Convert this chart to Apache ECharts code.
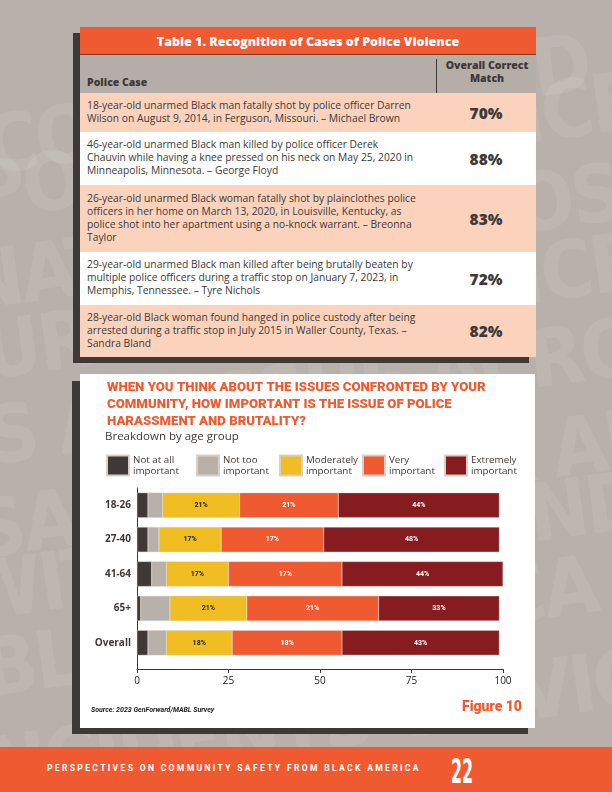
<!DOCTYPE html>
<html>
<head>
<meta charset="utf-8">
<script src="https://cdn.jsdelivr.net/npm/echarts@6/dist/echarts.min.js"></script>
<style>
  html, body { margin: 0; padding: 0; }
  body { width: 612px; height: 792px; position: relative; overflow: hidden;
         background: #b8b0aa; font-family: 'Open Sans', Roboto, sans-serif; color: #3e3936; }
  .wm { position: absolute; font-family: 'DejaVu Sans Condensed', sans-serif; font-weight: bold;
        color: rgba(255,255,255,0.09); font-size: 80px; white-space: nowrap; transform: rotate(-8deg);
        letter-spacing: -3px; }
  .shadow { position: absolute; background: #3e3936; }
  #table { position: absolute; left: 80px; top: 27px; width: 456px; }
  #table .ttl { height: 28px; background: #f05a30; color: #fff; font-weight: 800; font-size: 12.5px;
                line-height: 29px; text-align: center; border-bottom: 1px solid #7a3a24; box-sizing: border-box; }
  #table .row { position: relative; box-sizing: border-box; }
  #table .case { position: absolute; left: 7px; font-size: 10.3px; line-height: 13px; white-space: nowrap; }
  #table .pct { position: absolute; left: 356px; width: 100px; text-align: center; font-weight: 800; font-size: 15.5px; }
  #table .hd { height: 38px; background: #b5ada7; }
  #table .hd .c1 { position: absolute; left: 7px; top: 20px; font-size: 10.5px; font-weight: 800; }
  #table .hd .c2 { position: absolute; left: 356px; width: 100px; top: 4px; text-align: center; font-size: 10.5px;
                   font-weight: 800; line-height: 13px; border-left: 1px solid #3e3936; height: 34px; }
  #panel { position: absolute; left: 80px; top: 374px; width: 455px; height: 354px; background: #fff; }
  #chart { width: 455px; height: 354px; }
  #footer { position: absolute; left: 0; top: 747px; width: 612px; height: 45px; background: #f05a30; }
  #footer .t { position: absolute; left: 47px; top: 16px; color: #fff; font-weight: bold; font-size: 8.6px;
               font-family: Roboto, sans-serif; letter-spacing: 2.3px; white-space: nowrap; }
  #footer .n { position: absolute; left: 451px; top: 4px; color: #fff; font-family: 'DejaVu Sans Condensed', sans-serif;
               font-weight: bold; font-size: 34px; transform: scaleX(0.52); transform-origin: left top; }
</style>
</head>
<body>
<div class="wm" style="left:-20px; top:20px;">CONCERNS AND EXPERIENCES</div>
<div class="wm" style="left:-30px; top:100px;">POLICE VIOLENCE</div>
<div class="wm" style="left:-40px; top:180px;">NATIONAL EXPOSURE</div>
<div class="wm" style="left:-20px; top:260px;">URGENCY POLICE</div>
<div class="wm" style="left:-40px; top:340px;">IS AN ISSUE ACROSS</div>
<div class="wm" style="left:-30px; top:420px;">SAFETY BLACK AMERICA</div>
<div class="wm" style="left:-40px; top:500px;">WITH POLICE AND</div>
<div class="wm" style="left:-20px; top:580px;">BLACK AMERICA</div>
<div class="wm" style="left:-40px; top:660px;">INCIDENTS OF VIOLENCE</div>

<div class="shadow" style="left:73px; top:33px; width:8px; height:330px;"></div>
<div class="shadow" style="left:73px; top:357px; width:456px; height:6px;"></div>
<div id="table"></div>

<div class="shadow" style="left:72px; top:381px; width:9px; height:353px;"></div>
<div class="shadow" style="left:72px; top:728px; width:456px; height:6px;"></div>
<div id="panel"><div id="chart"></div></div>

<div id="footer">
  <div class="t">PERSPECTIVES ON COMMUNITY SAFETY FROM BLACK AMERICA</div>
  <div class="n">22</div>
</div>

<script>
// table data
var caseTexts = [
  '18-year-old unarmed Black man fatally shot by police officer Darren<br>Wilson on August 9, 2014, in Ferguson, Missouri. – Michael Brown',
  '46-year-old unarmed Black man killed by police officer Derek<br>Chauvin while having a knee pressed on his neck on May 25, 2020 in<br>Minneapolis, Minnesota. – George Floyd',
  '26-year-old unarmed Black woman fatally shot by plainclothes police<br>officers in her home on March 13, 2020, in Louisville, Kentucky, as<br>police shot into her apartment using a no-knock warrant. – Breonna<br>Taylor',
  '29-year-old unarmed Black man killed after being brutally beaten by<br>multiple police officers during a traffic stop on January 7, 2023, in<br>Memphis, Tennessee. – Tyre Nichols',
  '28-year-old Black woman found hanged in police custody after being<br>arrested during a traffic stop in July 2015 in Waller County, Texas. –<br>Sandra Bland'
];
var matchPct = [70, 88, 83, 72, 82];
var rowHeights = [39, 53, 67, 53, 52];

// chart data
var categories = ['18-26', '27-40', '41-64', '65+', 'Overall'];
var notAtAll = [3, 3, 4, 1, 3];
var notToo = [4, 3, 4, 8, 5];
var moderately = [21, 17, 17, 21, 18];
var very = [27, 28, 31, 36, 30];
var extremely = [44, 48, 44, 33, 43];
// labels as printed on the bars
var moderatelyLabels = ['21%', '17%', '17%', '21%', '18%'];
var veryLabels = ['21%', '17%', '17%', '21%', '18%'];
var extremelyLabels = ['44%', '48%', '44%', '33%', '43%'];
var xTicks = [0, 25, 50, 75, 100];

var seriesNames = ['Not at all\nimportant', 'Not too\nimportant', 'Moderately\nimportant', 'Very\nimportant', 'Extremely\nimportant'];
var colors = ['#3e3936', '#b8b0aa', '#f0be22', '#f05a30', '#871c20'];

var tableHtml = '<div class="ttl">Table 1. Recognition of Cases of Police Violence</div>' +
  '<div class="row hd"><div class="c1">Police Case</div><div class="c2">Overall Correct<br>Match</div></div>';
caseTexts.forEach(function(t, i){
  var h = rowHeights[i];
  var lines = t.split('<br>').length;
  var top = Math.round((h - lines * 13) / 2) - 1;
  tableHtml += '<div class="row" style="height:' + h + 'px;background:' + (i % 2 === 0 ? '#fbd3bd' : '#fff') + '">' +
    '<div class="case" style="top:' + top + 'px">' + t + '</div>' +
    '<div class="pct" style="top:' + (Math.round(h / 2) - 11) + 'px">' + matchPct[i] + '%</div></div>';
});
document.getElementById('table').innerHTML = tableHtml;

var chart = echarts.init(document.getElementById('chart'));
var legendLefts = [26, 116, 199, 282, 364];
var dataSets = [notAtAll, notToo, moderately, very, extremely];
var labelSets = [null, null, moderatelyLabels, veryLabels, extremelyLabels];

var option = {
  animation: false,
  title: [
    {
      text: 'WHEN YOU THINK ABOUT THE ISSUES CONFRONTED BY YOUR\nCOMMUNITY, HOW IMPORTANT IS THE ISSUE OF POLICE\nHARASSMENT AND BRUTALITY?',
      left: 22, top: 0,
      textStyle: { color: '#f05a30', fontSize: 13.2, fontWeight: 900, lineHeight: 17, fontFamily: 'Roboto' }
    },
    {
      text: 'Breakdown by age group', left: 20, top: 52,
      textStyle: { color: '#3e3936', fontSize: 11.5, fontWeight: 500, fontFamily: 'Open Sans' }
    },
    {
      text: 'Figure 10', left: 377, top: 321,
      textStyle: { color: '#f05a30', fontSize: 14, fontWeight: 900, fontFamily: 'Roboto' }
    },
    {
      text: 'Source: 2023 GenForward/MABL Survey', left: 6, top: 328,
      textStyle: { color: '#222', fontSize: 7, fontWeight: 'bold', fontStyle: 'italic', fontFamily: 'Roboto' }
    }
  ],
  legend: seriesNames.map(function(n, i){
    return {
      data: [n], left: legendLefts[i], top: 80, padding: 0,
      itemWidth: 22, itemHeight: 20, itemGap: 5,
      icon: 'rect',
      textStyle: { color: '#3e3936', fontSize: 9.8, lineHeight: 11.5, fontFamily: 'Open Sans', padding: [0, 0, 0, -1] }
    };
  }),
  grid: { left: 57, top: 114, width: 366, height: 172 },
  xAxis: {
    type: 'value', min: 0, max: 100, interval: 25, offset: 9,
    axisLine: { show: true, lineStyle: { color: '#3e3936', width: 1 } },
    axisTick: { show: true, length: 4, lineStyle: { color: '#3e3936' } },
    axisLabel: { color: '#222', fontSize: 10, margin: 7, fontFamily: 'Open Sans',
      formatter: function(v){ return xTicks.indexOf(v) > -1 ? String(v) : ''; } },
    splitLine: { show: false }
  },
  yAxis: {
    type: 'category', data: categories, inverse: true,
    axisLine: { show: true, lineStyle: { color: '#3e3936', width: 1 } },
    axisTick: { show: false },
    axisLabel: { color: '#3e3936', fontSize: 10, fontWeight: 'bold', margin: 6, fontFamily: 'Open Sans' }
  },
  graphic: [
    { type: 'line', shape: { x1: 57.5, y1: 286, x2: 57.5, y2: 295 }, style: { stroke: '#3e3936', lineWidth: 1 } }
  ],
  series: seriesNames.map(function(n, i){
    var labels = labelSets[i];
    return {
      name: n, type: 'bar', stack: 'total', barWidth: 25,
      data: dataSets[i],
      itemStyle: { color: colors[i], borderColor: '#d9cfc8', borderWidth: 0.4 },
      label: {
        show: !!labels, position: 'inside',
        color: i === 2 ? '#222' : '#fff', fontSize: 7, fontWeight: 'bold', fontFamily: 'Roboto',
        formatter: function(p){ return labels ? labels[p.dataIndex] : ''; }
      }
    };
  })
};
chart.setOption(option);
</script>
</body>
</html>
